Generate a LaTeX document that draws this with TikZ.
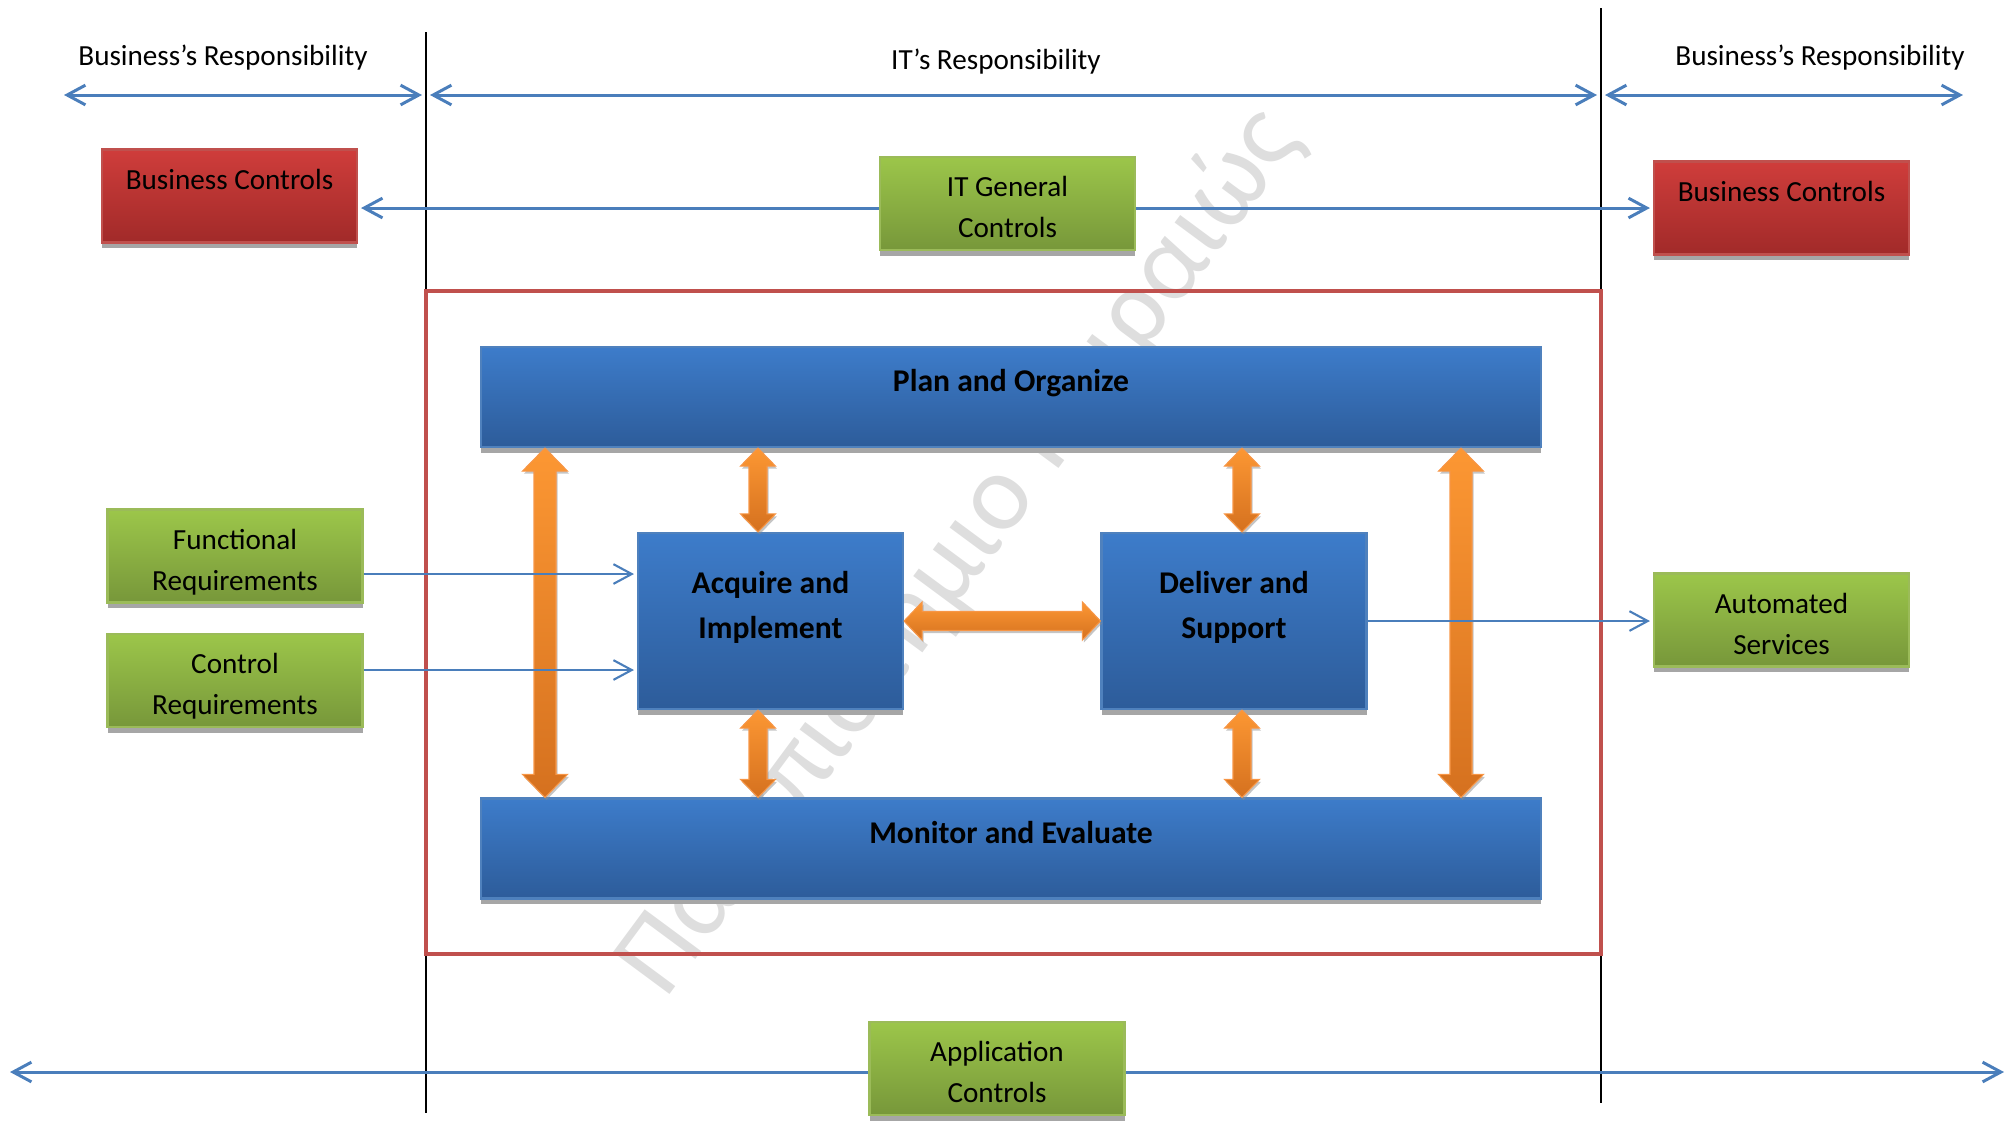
\documentclass[tikz,border=0pt]{standalone}
\usepackage{fontspec}
\setmainfont{Carlito}
\usepackage{xcolor}
\usepackage{tikz}
\usetikzlibrary{arrows.meta,shadows,calc}

\definecolor{blueline}{HTML}{4A7EBB}
\definecolor{bluetop}{HTML}{3D7CCA}
\definecolor{bluebot}{HTML}{2D5C9A}
\definecolor{blueedge}{HTML}{4F81BD}
\definecolor{greentop}{HTML}{9CC64A}
\definecolor{greenbot}{HTML}{77973A}
\definecolor{greenedge}{HTML}{9BBB59}
\definecolor{redtop}{HTML}{CF3D3B}
\definecolor{redbot}{HTML}{A12A29}
\definecolor{rededge}{HTML}{C0504D}
\definecolor{orangetop}{HTML}{FC9733}
\definecolor{orangebot}{HTML}{D5711F}
\definecolor{orangeedge}{HTML}{F79646}

\newcommand{\vdarrow}[5]{%
  \shade[darrow] let \p1=#1, \p2=#2 in
    (\x1,\y1) -- (\x1+#4,\y1-#5) -- (\x1+#3,\y1-#5) -- (\x1+#3,\y2+#5) -- (\x1+#4,\y2+#5)
    -- (\x1,\y2) -- (\x1-#4,\y2+#5) -- (\x1-#3,\y2+#5) -- (\x1-#3,\y1-#5) -- (\x1-#4,\y1-#5) -- cycle;}
\newcommand{\hdarrow}[5]{%
  \shade[darrow] let \p1=#1, \p2=#2 in
    (\x1,\y1) -- (\x1+#5,\y1+#4) -- (\x1+#5,\y1+#3) -- (\x2-#5,\y1+#3) -- (\x2-#5,\y1+#4)
    -- (\x2,\y1) -- (\x2-#5,\y1-#4) -- (\x2-#5,\y1-#3) -- (\x1+#5,\y1-#3) -- (\x1+#5,\y1-#4) -- cycle;}

\begin{document}
\begin{tikzpicture}[
    >={Straight Barb[length=5.2pt,width=5.6pt]},
    hdr/.style={font=\fontsize{8.3}{11.7}\selectfont, inner sep=0pt},
    span/.style={draw=blueline, line width=0.85pt},
    flow/.style={draw=blueline, line width=0.6pt},
    box/.style={rectangle, inner sep=0pt, align=center, line width=0.6pt,
      drop shadow={shadow xshift=0pt, shadow yshift=-0.055cm, fill=black!35, opacity=1}},
    greenbox/.style={box, draw=greenedge, top color=greentop, bottom color=greenbot,
      minimum width=2.55cm, minimum height=0.93cm, text height=20.5pt, text depth=1pt,
      font=\fontsize{8.3}{11.7}\selectfont},
    redbox/.style={box, draw=rededge, top color=redtop, bottom color=redbot,
      minimum width=2.55cm, minimum height=0.93cm, text height=6.5pt, text depth=10pt,
      font=\fontsize{8.3}{11.7}\selectfont},
    phasebar/.style={box, draw=blueedge, top color=bluetop, bottom color=bluebot,
      minimum width=10.6cm, minimum height=1cm, text height=7pt, text depth=10pt,
      font=\bfseries\fontsize{9}{12.8}\selectfont},
    phasebox/.style={box, draw=blueedge, top color=bluetop, bottom color=bluebot,
      minimum width=2.65cm, minimum height=1.76cm, text height=12pt, text depth=2.3pt,
      font=\bfseries\fontsize{9}{12.8}\selectfont},
    itframe/.style={draw=rededge, line width=1.3pt, minimum width=11.75cm,
      minimum height=6.63cm, inner sep=0pt},
    darrow/.style={top color=orangetop, bottom color=orangebot, draw=orangeedge, line width=0.3pt,
      drop shadow={shadow xshift=0.015cm, shadow yshift=-0.025cm, fill=black!45, opacity=0.5}}
  ]
    \useasboundingbox (0,0) rectangle (20.08,-11.42);

    \node[rotate=53.5, text=black!13, font=\fontsize{31.2}{32}\selectfont] (wm) at (9.60,-5.52) {Πανεπιστήμιο Πειραιώς};

    \coordinate (v1) at (4.26,-0.32);
    \coordinate (v2) at (4.26,-11.13);
    \coordinate (v3) at (16.01,-0.08);
    \coordinate (v4) at (16.01,-11.03);
    \draw[line width=0.5pt] (v1) -- (v2);
    \draw[line width=0.5pt] (v3) -- (v4);

    \node[itframe] (it) at (10.135,-6.225) {};

    \node[hdr] (bl) at (2.23,-0.58) {Business’s Responsibility};
    \node[hdr] (il) at (9.96,-0.615) {IT’s Responsibility};
    \node[hdr] (br) at (18.20,-0.58) {Business’s Responsibility};

    \coordinate (t1) at (0.64,-0.95);
    \coordinate (t2) at (4.22,-0.95);
    \coordinate (t3) at (4.30,-0.95);
    \coordinate (t4) at (15.97,-0.95);
    \coordinate (t5) at (16.05,-0.95);
    \coordinate (t6) at (19.63,-0.95);
    \draw[span,<->] (t1) -- (t2);
    \draw[span,<->] (t3) -- (t4);
    \draw[span,<->] (t5) -- (t6);

    \node[redbox] (bc1) at (2.295,-1.96) {Business Controls};
    \node[greenbox] (itgc) at (10.075,-2.035) {IT General\\Controls};
    \node[redbox] (bc2) at (17.815,-2.08) {Business Controls};
    \node[greenbox] (fr) at (2.35,-5.56) {Functional\\Requirements};
    \node[greenbox] (cr) at (2.35,-6.805) {Control\\Requirements};
    \node[greenbox] (as) at (17.815,-6.20) {Automated\\Services};
    \node[greenbox] (app) at (9.97,-10.685) {Application\\Controls};

    \node[phasebar] (po) at (10.11,-3.97) {Plan and Organize};
    \node[phasebar] (me) at (10.11,-8.485) {Monitor and Evaluate};
    \node[phasebox] (ai) at (7.705,-6.21) {Acquire and\\Implement};
    \node[phasebox] (ds) at (12.34,-6.21) {Deliver and\\Support};

    \vdarrow{(5.45,0 |- po.south)}{(5.45,0 |- me.north)}{0.11cm}{0.225cm}{0.23cm}
    \vdarrow{(14.61,0 |- po.south)}{(14.61,0 |- me.north)}{0.11cm}{0.225cm}{0.23cm}
    \vdarrow{(7.58,0 |- po.south)}{(7.58,0 |- ai.north)}{0.09cm}{0.175cm}{0.18cm}
    \vdarrow{(7.58,0 |- ai.south)}{(7.58,0 |- me.north)}{0.09cm}{0.175cm}{0.18cm}
    \vdarrow{(12.42,0 |- po.south)}{(12.42,0 |- ds.north)}{0.09cm}{0.175cm}{0.18cm}
    \vdarrow{(12.42,0 |- ds.south)}{(12.42,0 |- me.north)}{0.09cm}{0.175cm}{0.18cm}
    \hdarrow{(ai.east)}{(ds.west)}{0.095cm}{0.19cm}{0.18cm}

    \coordinate (g) at (0,-2.08);
    \coordinate (f) at (0,-5.74);
    \coordinate (c) at (0,-6.70);
    \coordinate (b1) at (0.10,-10.72);
    \coordinate (b2) at (20.04,-10.72);
    \draw[span,<-,shorten <=0.03cm] (bc1.east |- g) -- (itgc.west |- g);
    \draw[span,->,shorten >=0.03cm] (itgc.east |- g) -- (bc2.west |- g);
    \draw[flow,->,shorten >=0.03cm] (fr.east |- f) -- (ai.west |- f);
    \draw[flow,->,shorten >=0.03cm] (cr.east |- c) -- (ai.west |- c);
    \draw[flow,->,shorten >=0.03cm] (ds.east) -- (as.west |- ds.east);
    \draw[span,<-] (b1) -- (app.west |- b1);
    \draw[span,->] (app.east |- b1) -- (b2);
\end{tikzpicture}
\end{document}
